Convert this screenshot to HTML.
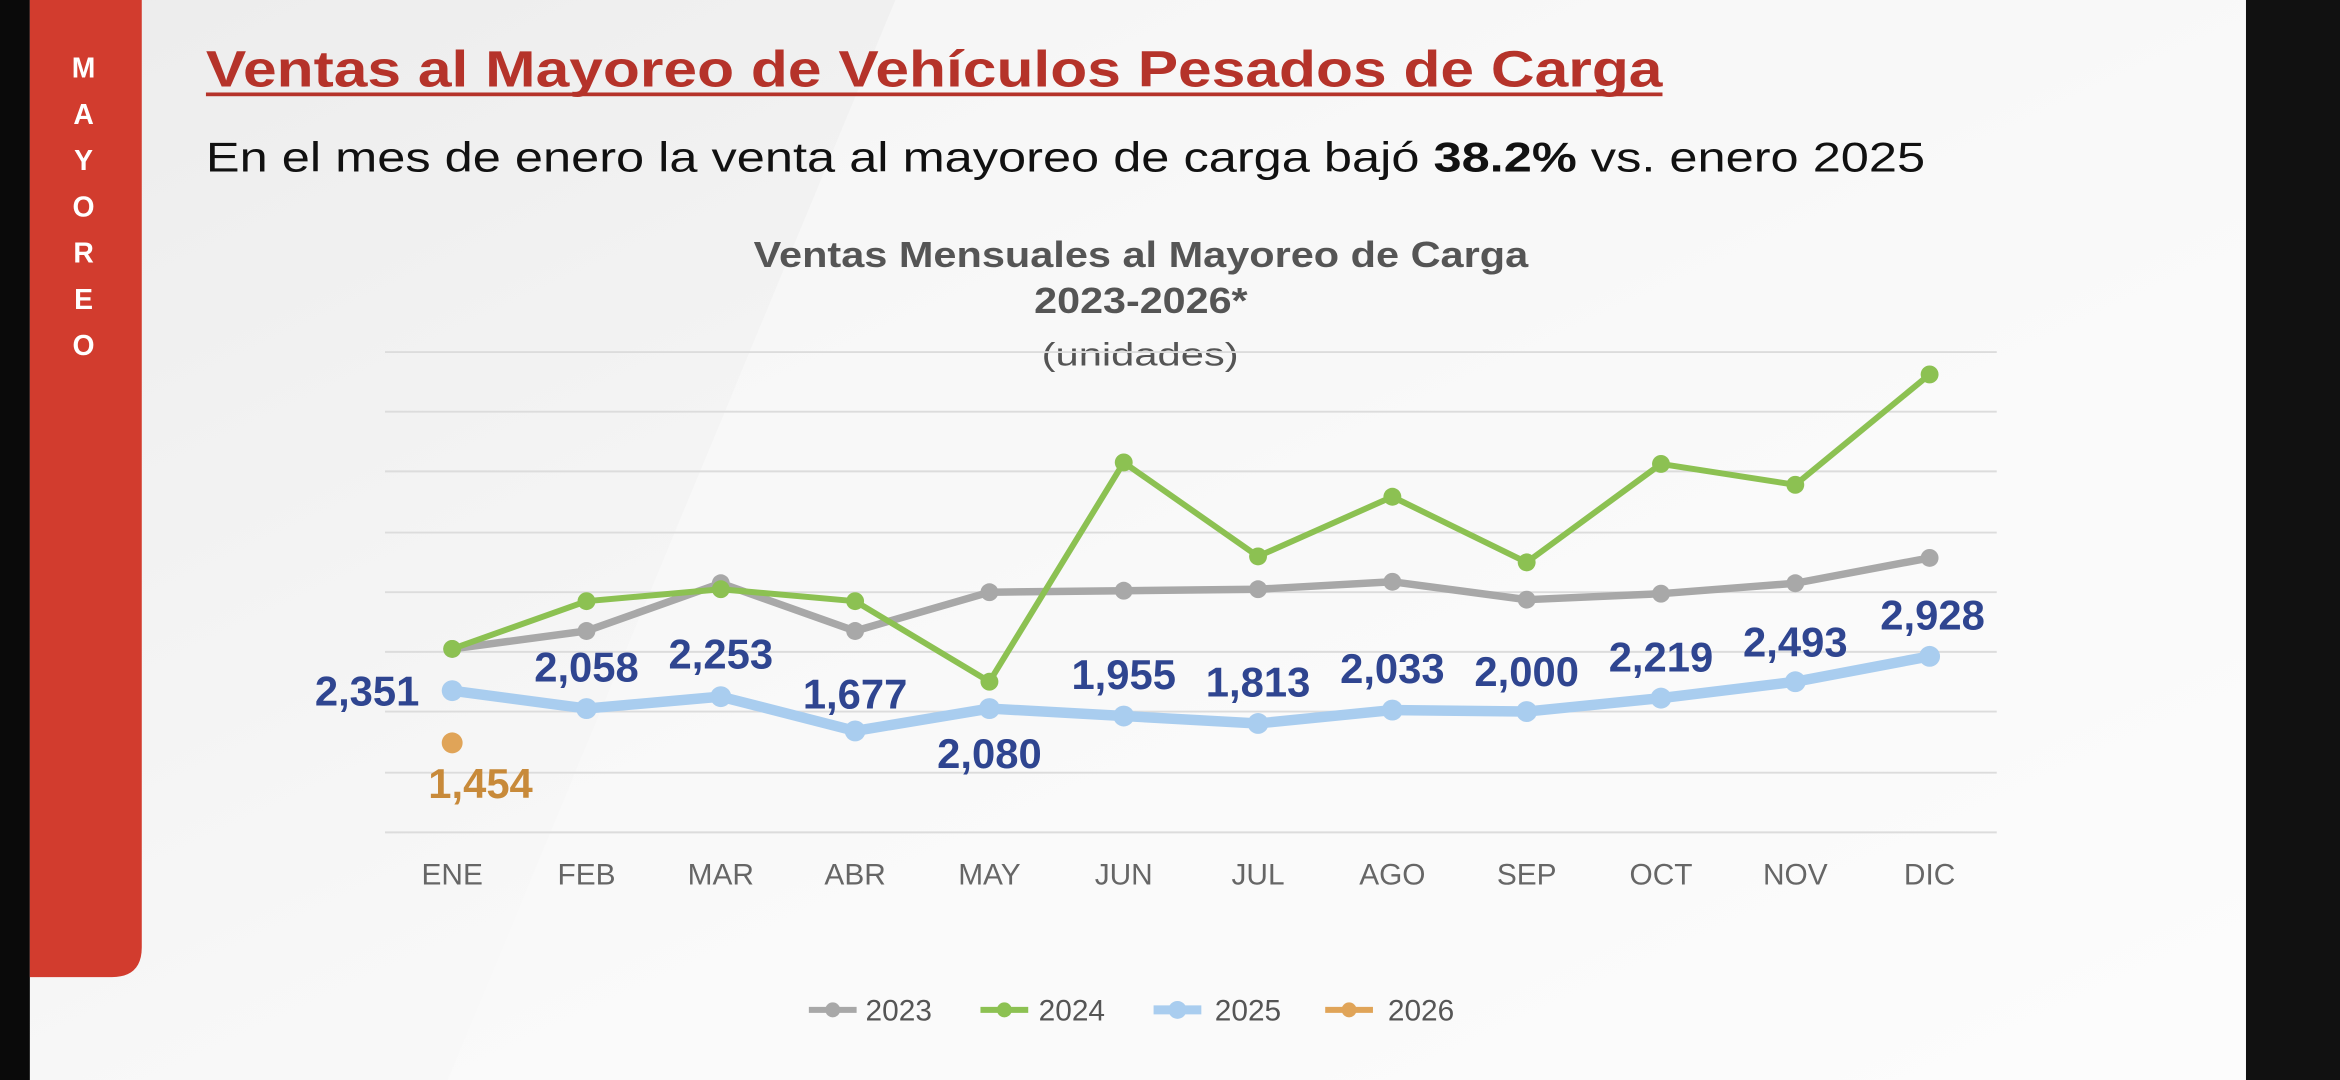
<!DOCTYPE html>
<html><head><meta charset="utf-8"><style>
html,body{margin:0;padding:0;background:#fff;}
svg{display:block;}
text{font-family:"Liberation Sans",sans-serif;}
</style></head><body>
<svg width="2340" height="1080" viewBox="0 0 1568 724" preserveAspectRatio="none" xmlns="http://www.w3.org/2000/svg">
<defs>
<linearGradient id="bg" x1="0" y1="0" x2="1" y2="1">
<stop offset="0" stop-color="#ececec"/><stop offset="0.5" stop-color="#f7f7f7"/><stop offset="1" stop-color="#ffffff"/>
</linearGradient>
</defs>
<rect width="1568" height="724" fill="url(#bg)"/>
<polygon points="600,0 1568,0 1568,724 300,724" fill="#fafafa" opacity="0.6"/>
<rect x="0" y="0" width="20" height="724" fill="#0a0a0a"/>
<rect x="1505" y="0" width="63" height="724" fill="#111"/>
<path d="M20,0 H95 V635 Q95,655 75,655 H20 Z" fill="#d23c2e"/>
<g fill="#fff" font-weight="bold" font-size="19" text-anchor="middle">
<text x="56" y="52">M</text><text x="56" y="83">A</text><text x="56" y="114">Y</text><text x="56" y="145">O</text><text x="56" y="176">R</text><text x="56" y="207">E</text><text x="56" y="238">O</text>
</g>
<text x="138" y="58" font-size="34" font-weight="bold" fill="#b5332a" textLength="976" lengthAdjust="spacingAndGlyphs">Ventas al Mayoreo de Vehículos Pesados de Carga</text>
<rect x="138" y="62" width="976" height="2.5" fill="#b5332a"/>
<text x="138" y="115" font-size="28" fill="#111" textLength="1152" lengthAdjust="spacingAndGlyphs">En el mes de enero la venta al mayoreo de carga bajó <tspan font-weight="bold">38.2%</tspan> vs. enero 2025</text>
<g fill="#555" font-size="24" font-weight="bold">
<text x="505" y="179" textLength="519" lengthAdjust="spacingAndGlyphs">Ventas Mensuales al Mayoreo de Carga</text>
<text x="693" y="210" textLength="143" lengthAdjust="spacingAndGlyphs">2023-2026*</text>
</g>
<text x="698" y="245" fill="#555" font-size="22" textLength="132" lengthAdjust="spacingAndGlyphs">(unidades)</text>
<g stroke="#dcdcdc" stroke-width="1.3">
<line x1="258" y1="236" x2="1338" y2="236"/><line x1="258" y1="276" x2="1338" y2="276"/><line x1="258" y1="316" x2="1338" y2="316"/><line x1="258" y1="357" x2="1338" y2="357"/><line x1="258" y1="397" x2="1338" y2="397"/><line x1="258" y1="437" x2="1338" y2="437"/><line x1="258" y1="477" x2="1338" y2="477"/><line x1="258" y1="518" x2="1338" y2="518"/><line x1="258" y1="558" x2="1338" y2="558"/>
</g>
<g fill="#666" font-size="20" text-anchor="middle">
<text x="303" y="593">ENE</text><text x="393" y="593">FEB</text><text x="483" y="593">MAR</text><text x="573" y="593">ABR</text><text x="663" y="593">MAY</text><text x="753" y="593">JUN</text><text x="843" y="593">JUL</text><text x="933" y="593">AGO</text><text x="1023" y="593">SEP</text><text x="1113" y="593">OCT</text><text x="1203" y="593">NOV</text><text x="1293" y="593">DIC</text>
</g>
<g fill="none" stroke-linejoin="round" stroke-linecap="round">
<polyline stroke="#a8a8a8" stroke-width="5" points="303,435 393,423 483,391 573,423 663,397 753,396 843,395 933,390 1023,402 1113,398 1203,391 1293,374"/>
<polyline stroke="#8cc152" stroke-width="4" points="303,435 393,403 483,395 573,403 663,457 753,310 843,373 933,333 1023,377 1113,311 1203,325 1293,251"/>
<polyline stroke="#a9cdef" stroke-width="7" points="303,463 393,475 483,467 573,490 663,475 753,480 843,485 933,476 1023,477 1113,468 1203,457 1293,440"/>
</g>
<g fill="#a8a8a8"><circle cx="303" cy="435" r="6"/><circle cx="393" cy="423" r="6"/><circle cx="483" cy="391" r="6"/><circle cx="573" cy="423" r="6"/><circle cx="663" cy="397" r="6"/><circle cx="753" cy="396" r="6"/><circle cx="843" cy="395" r="6"/><circle cx="933" cy="390" r="6"/><circle cx="1023" cy="402" r="6"/><circle cx="1113" cy="398" r="6"/><circle cx="1203" cy="391" r="6"/><circle cx="1293" cy="374" r="6"/></g>
<g fill="#8cc152"><circle cx="303" cy="435" r="6"/><circle cx="393" cy="403" r="6"/><circle cx="483" cy="395" r="6"/><circle cx="573" cy="403" r="6"/><circle cx="663" cy="457" r="6"/><circle cx="753" cy="310" r="6"/><circle cx="843" cy="373" r="6"/><circle cx="933" cy="333" r="6"/><circle cx="1023" cy="377" r="6"/><circle cx="1113" cy="311" r="6"/><circle cx="1203" cy="325" r="6"/><circle cx="1293" cy="251" r="6"/></g>
<g fill="#a9cdef"><circle cx="303" cy="463" r="7"/><circle cx="393" cy="475" r="7"/><circle cx="483" cy="467" r="7"/><circle cx="573" cy="490" r="7"/><circle cx="663" cy="475" r="7"/><circle cx="753" cy="480" r="7"/><circle cx="843" cy="485" r="7"/><circle cx="933" cy="476" r="7"/><circle cx="1023" cy="477" r="7"/><circle cx="1113" cy="468" r="7"/><circle cx="1203" cy="457" r="7"/><circle cx="1293" cy="440" r="7"/></g>
<circle cx="303" cy="498" r="7" fill="#e0a458"/>
<g fill="#2f4590" font-size="28" font-weight="bold" text-anchor="middle">
<text x="246" y="473">2,351</text><text x="393" y="457">2,058</text><text x="483" y="448">2,253</text><text x="573" y="475">1,677</text><text x="663" y="515">2,080</text><text x="753" y="462">1,955</text><text x="843" y="467">1,813</text><text x="933" y="458">2,033</text><text x="1023" y="460">2,000</text><text x="1113" y="450">2,219</text><text x="1203" y="440">2,493</text><text x="1295" y="422">2,928</text>
</g>
<text x="322" y="535" fill="#c88a3a" font-size="28" font-weight="bold" text-anchor="middle">1,454</text>
<g font-size="20" fill="#555">
<line x1="542" y1="677" x2="574" y2="677" stroke="#a8a8a8" stroke-width="4"/><circle cx="558" cy="677" r="5" fill="#a8a8a8"/><text x="580" y="684">2023</text>
<line x1="657" y1="677" x2="689" y2="677" stroke="#8cc152" stroke-width="4"/><circle cx="673" cy="677" r="5" fill="#8cc152"/><text x="696" y="684">2024</text>
<line x1="773" y1="677" x2="805" y2="677" stroke="#a9cdef" stroke-width="6"/><circle cx="789" cy="677" r="6" fill="#a9cdef"/><text x="814" y="684">2025</text>
<line x1="888" y1="677" x2="920" y2="677" stroke="#e0a458" stroke-width="4"/><circle cx="904" cy="677" r="5" fill="#e0a458"/><text x="930" y="684">2026</text>
</g>
</svg>
</body></html>
